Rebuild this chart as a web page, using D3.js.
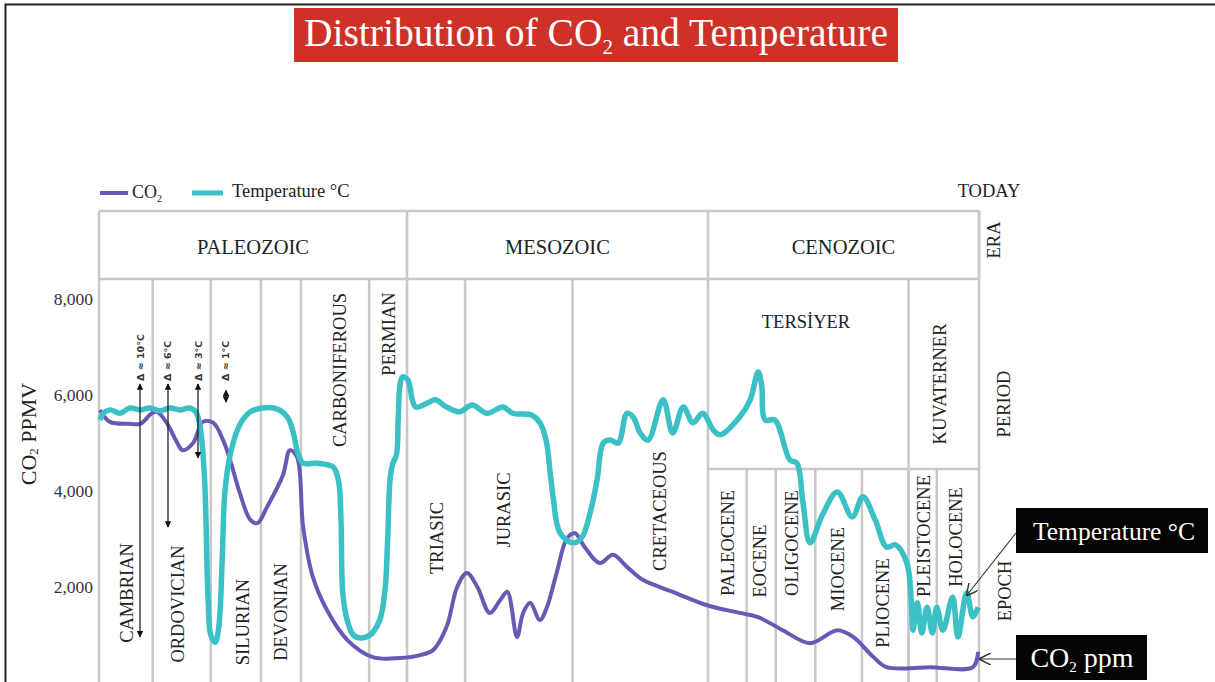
<!DOCTYPE html>
<html>
<head>
<meta charset="utf-8">
<script src="https://cdn.jsdelivr.net/npm/d3@7"></script>
<style>
  body { margin: 0; background: #fff; }
  svg { display: block; font-family: "Liberation Serif", "Times New Roman", serif; }
</style>
</head>
<body>
<div id="chart"></div>
<script>
const width = 1215;
const height = 682;

// timeline position 0..100 (not linear in time, as in the original figure)
const eraNames = ["PALEOZOIC", "MESOZOIC", "CENOZOIC"];
const eraBounds = [0, 35.0, 69.2, 100];

const periodNames = ["CAMBRIAN", "ORDOVICIAN", "SILURIAN", "DEVONIAN", "CARBONIFEROUS", "PERMIAN",
  "TRIASIC", "JURASIC", "CRETACEOUS", "TERSİYER", "KUVATERNER"];
const periodBounds = [0, 6.1, 12.7, 18.4, 22.95, 30.7, 35.0, 41.6, 53.8, 69.2, 92.0, 100];

const epochNames = ["PALEOCENE", "EOCENE", "OLIGOCENE", "MIOCENE", "PLIOCENE", "PLEISTOCENE", "HOLOCENE"];
const epochBounds = [69.2, 73.6, 76.9, 81.4, 86.7, 92.0, 95.2, 100];

const yTicks = [2000, 4000, 6000, 8000];

// CO2 ppmv
const co2Pos = [0.1, 1.25, 3.5, 4.7, 6.0, 6.6, 7.7, 8.9, 9.5, 10.7, 11.8, 13.0, 14.1, 14.9, 16.0, 17.2, 18.0,
  19.1, 20.9, 21.7, 22.5, 23.2, 24.3, 25.9, 28.2, 31.1, 34.2, 36.5, 38.0, 39.5, 40.7, 41.8, 43.0, 44.4,
  45.6, 46.4, 47.5, 48.2, 49.0, 50.1, 50.9, 52.0, 53.2, 54.1, 55.2, 56.9, 58.4, 60.0, 61.8, 65.2, 69.1,
  72.8, 74.8, 77.7, 80.8, 83.9, 85.7, 88.0, 89.5, 94.4, 99.3, 99.9];
const co2Values = [5690, 5440, 5400, 5400, 5620, 5650, 5420, 5000, 4850, 5000, 5440, 5420, 5060, 4650, 3960,
  3400, 3330, 3670, 4330, 4850, 4710, 3250, 2210, 1520, 900, 540, 520, 580, 690, 1170, 2000, 2290, 2000,
  1460, 1730, 1900, 960, 1460, 1670, 1310, 1580, 2290, 3020, 3120, 2830, 2500, 2670, 2420, 2150, 1900,
  1620, 1460, 1380, 1100, 830, 1100, 960, 540, 330, 330, 330, 650];

// temperature, drawn on the same vertical scale as in the source figure
const tempPos = [0.1, 0.5, 1.25, 2.4, 3.5, 4.7, 5.8, 6.9, 8.1, 9.2, 10.3, 11.0, 11.5, 12.0, 12.4, 12.7, 13.2,
  13.6, 14.0, 14.3, 14.9, 16.0, 17.2, 18.6, 20.2, 21.4, 22.0, 22.6, 23.2, 24.8, 26.6, 27.2, 27.5, 27.7,
  28.2, 28.9, 29.7, 30.8, 31.9, 32.5, 32.8, 33.1, 33.4, 33.8, 34.0, 34.2, 34.5, 35.1, 35.6, 36.0, 37.3,
  38.2, 39.5, 41.0, 42.4, 44.1, 45.9, 47.0, 49.2, 50.1, 50.8, 51.3, 51.6, 52.4, 53.9, 54.9, 55.8, 56.6,
  57.3, 58.1, 59.0, 60.0, 60.7, 61.5, 62.4, 64.1, 65.2, 66.4, 67.5, 68.6, 69.8, 70.6, 72.8, 74.0, 74.9,
  75.3, 75.7, 76.8, 78.5, 79.3, 80.0, 80.8, 82.2, 83.9, 85.6, 86.8, 88.2, 89.5, 90.5, 91.8, 92.3, 92.5,
  93.0, 93.5, 94.1, 94.7, 95.2, 95.9, 97.0, 97.6, 98.6, 99.3, 99.9];
const tempValues = [5480, 5620, 5690, 5620, 5730, 5690, 5730, 5670, 5730, 5690, 5730, 5650, 5330, 4230, 1730,
  1000, 850, 1150, 2560, 3960, 4750, 5380, 5650, 5730, 5710, 5540, 5270, 4790, 4580, 4580, 4500, 4230,
  3400, 1880, 1310, 1000, 940, 1000, 1310, 1940, 2980, 4290, 4580, 4750, 5480, 6210, 6380, 6310, 5900,
  5750, 5830, 5900, 5750, 5650, 5790, 5620, 5750, 5620, 5580, 5420, 5060, 4330, 3880, 3120, 2920, 3040,
  3540, 4230, 5000, 5060, 5000, 5620, 5540, 5210, 5060, 5900, 5210, 5750, 5420, 5620, 5270, 5170, 5540,
  5900, 6480, 6210, 5480, 5480, 4650, 4580, 3750, 2920, 3500, 3980, 3460, 3880, 3400, 2830, 2880, 2500,
  1730, 1100, 1670, 1040, 1580, 1040, 1580, 1100, 1790, 960, 1880, 1380, 1580];

// Δ temperature markers
const deltaLabels = ["Δ ≈ 10°C", "Δ ≈ 6°C", "Δ ≈ 3°C", "Δ ≈ 1°C"];
const deltaPos = [4.66, 7.84, 11.25, 14.43];
const deltaTop = [6230, 6230, 6230, 6100];
const deltaBottom = [960, 3250, 4690, 5850];

const co2Color = "#6a58b4";
const tempColor = "#3bc0c6";
const gridColor = "#c8c8c8";
const labelSize = "18.5px";

const x = d3.scaleLinear().domain([0, 100]).range([99, 979]);
const y = d3.scaleLinear().domain([0, 8000]).range([683, 299]);

const svg = d3.select("#chart").append("svg")
  .attr("width", width)
  .attr("height", height);

svg.append("rect").attr("width", width).attr("height", height).attr("fill", "#fff");

// frame (top and left only)
svg.append("path")
  .attr("d", `M5.5,${height} V4.5 H${width}`)
  .attr("fill", "none")
  .attr("stroke", "#222")
  .attr("stroke-width", 2);

// title
const title = svg.append("g");
title.append("rect")
  .attr("x", 294).attr("y", 8).attr("width", 604).attr("height", 54)
  .attr("fill", "#cf3127");
const titleText = title.append("text")
  .attr("x", 596).attr("y", 46)
  .attr("text-anchor", "middle")
  .attr("fill", "#fff")
  .style("font-size", "39.5px");
titleText.append("tspan").text("Distribution of CO");
titleText.append("tspan").attr("dy", 8).style("font-size", "21px").text("2");
titleText.append("tspan").attr("dy", -8).text(" and Temperature");

// legend
const legend = svg.append("g");
legend.append("line").attr("x1", 100).attr("x2", 128).attr("y1", 193).attr("y2", 193)
  .attr("stroke", co2Color).attr("stroke-width", 4);
const lt = legend.append("text").attr("x", 132).attr("y", 198).style("font-size", "18px").attr("fill", "#222");
lt.append("tspan").text("CO");
lt.append("tspan").attr("dy", 4).style("font-size", "10px").text("2");
legend.append("line").attr("x1", 192).attr("x2", 223).attr("y1", 193).attr("y2", 193)
  .attr("stroke", tempColor).attr("stroke-width", 5);
legend.append("text").attr("x", 232).attr("y", 197).style("font-size", "18.5px").attr("fill", "#222")
  .text("Temperature °C");

svg.append("text").attr("x", 989).attr("y", 197).attr("text-anchor", "middle")
  .style("font-size", labelSize).attr("fill", "#222").text("TODAY");

// timeline grid
const eraTop = 211, periodTop = 279, epochTop = 469, bottom = height;
const grid = svg.append("g").attr("stroke", gridColor).attr("stroke-width", 2.5).attr("fill", "none");

grid.append("line").attr("x1", x(0)).attr("x2", x(100) + 1).attr("y1", eraTop).attr("y2", eraTop);
grid.append("line").attr("x1", x(0)).attr("x2", x(100) + 1).attr("y1", periodTop).attr("y2", periodTop);
grid.append("line").attr("x1", x(epochBounds[0])).attr("x2", x(100) + 1).attr("y1", epochTop).attr("y2", epochTop);

grid.selectAll(".era-line").data(eraBounds).join("line")
  .attr("x1", d => x(d)).attr("x2", d => x(d))
  .attr("y1", eraTop).attr("y2", periodTop);
grid.selectAll(".period-line").data(periodBounds.slice(0, -1)).join("line")
  .attr("x1", d => x(d)).attr("x2", d => x(d))
  .attr("y1", periodTop).attr("y2", bottom);
grid.append("line").attr("x1", x(100)).attr("x2", x(100)).attr("y1", eraTop).attr("y2", bottom);
grid.selectAll(".epoch-line").data(epochBounds.slice(1, -1)).join("line")
  .attr("x1", d => x(d)).attr("x2", d => x(d))
  .attr("y1", epochTop).attr("y2", bottom);

// era labels
svg.append("g").selectAll("text").data(eraNames).join("text")
  .attr("x", (d, i) => (x(eraBounds[i]) + x(eraBounds[i + 1])) / 2)
  .attr("y", 254)
  .attr("text-anchor", "middle")
  .style("font-size", "20.5px")
  .attr("fill", "#222")
  .text(d => d);

// label centres in px (layout only)
const periodLabelXY = [[127, 593], [178, 604], [243, 622], [281, 612], [340, 370], [389, 334],
  [437, 538], [504, 510], [660, 511], [806, 322], [940, 384]];
const epochLabelXY = [[728, 543], [760, 561], [792, 543], [838, 569], [883, 603], [924, 536], [956, 537]];

const rotLabel = (sel, xy) => sel
  .attr("transform", (d, i) => d === "TERSİYER" ? `translate(${xy[i][0]},${xy[i][1]})` : `translate(${xy[i][0]},${xy[i][1]}) rotate(-90)`)
  .attr("text-anchor", "middle")
  .attr("dominant-baseline", "central")
  .style("font-size", labelSize)
  .attr("fill", "#222")
  .text(d => d);

svg.append("g").selectAll("text").data(periodNames).join("text").call(rotLabel, periodLabelXY);
svg.append("g").selectAll("text").data(epochNames).join("text").call(rotLabel, epochLabelXY);

// row names on the right
const rowNames = [["ERA", 994, 240], ["PERIOD", 1004, 404], ["EPOCH", 1005, 591]];
svg.append("g").selectAll("text").data(rowNames).join("text")
  .attr("transform", d => `translate(${d[1]},${d[2]}) rotate(-90)`)
  .attr("text-anchor", "middle")
  .attr("dominant-baseline", "central")
  .style("font-size", labelSize)
  .attr("fill", "#222")
  .text(d => d[0]);

// y axis
const yAxis = svg.append("g")
  .attr("transform", "translate(93,0)")
  .call(d3.axisLeft(y).tickValues(yTicks).tickSize(0).tickPadding(0).tickFormat(d3.format(",")));
yAxis.select(".domain").remove();
yAxis.selectAll("text")
  .style("font-family", "Liberation Serif, serif")
  .style("font-size", "17.5px")
  .attr("fill", "#333");

const yTitle = svg.append("text")
  .attr("transform", "translate(28,434) rotate(-90)")
  .attr("text-anchor", "middle")
  .attr("dominant-baseline", "central")
  .style("font-size", "22px")
  .attr("fill", "#222");
yTitle.append("tspan").text("CO");
yTitle.append("tspan").attr("dy", 5).style("font-size", "13px").text("2");
yTitle.append("tspan").attr("dy", -5).text(" PPMV");

// curves
const line = d3.line()
  .x(d => x(d[0]))
  .y(d => y(d[1]))
  .curve(d3.curveCatmullRom.alpha(0.5));

svg.append("path")
  .datum(co2Pos.map((p, i) => [p, co2Values[i]]))
  .attr("d", line)
  .attr("fill", "none")
  .attr("stroke", co2Color)
  .attr("stroke-width", 4)
  .attr("stroke-linejoin", "round");

svg.append("path")
  .datum(tempPos.map((p, i) => [p, tempValues[i]]))
  .attr("d", line)
  .attr("fill", "none")
  .attr("stroke", tempColor)
  .attr("stroke-width", 5.5)
  .attr("stroke-linejoin", "round");

// arrow markers
const defs = svg.append("defs");
defs.append("marker")
  .attr("id", "tri").attr("viewBox", "0 0 10 10")
  .attr("refX", 9).attr("refY", 5)
  .attr("markerWidth", 5).attr("markerHeight", 5)
  .attr("orient", "auto-start-reverse")
  .append("path").attr("d", "M0,0 L10,5 L0,10 Z").attr("fill", "#111");
defs.append("marker")
  .attr("id", "open").attr("viewBox", "0 0 10 10")
  .attr("refX", 9).attr("refY", 5)
  .attr("markerWidth", 12).attr("markerHeight", 12)
  .attr("markerUnits", "userSpaceOnUse")
  .attr("orient", "auto")
  .append("path").attr("d", "M0,0 L10,5 L0,10").attr("fill", "none").attr("stroke", "#333").attr("stroke-width", 1.2);

// Δ markers
const delta = svg.append("g");
delta.selectAll("line").data(deltaPos).join("line")
  .attr("x1", d => x(d)).attr("x2", d => x(d))
  .attr("y1", (d, i) => y(deltaTop[i])).attr("y2", (d, i) => y(deltaBottom[i]))
  .attr("stroke", "#222").attr("stroke-width", 1.3)
  .attr("marker-start", "url(#tri)").attr("marker-end", "url(#tri)");
delta.selectAll("text").data(deltaLabels).join("text")
  .attr("transform", (d, i) => `translate(${x(deltaPos[i])},381) rotate(-90)`)
  .attr("dominant-baseline", "central")
  .style("font-family", "DejaVu Sans, sans-serif")
  .style("font-size", "9.5px")
  .style("font-weight", "bold")
  .attr("fill", "#333")
  .text(d => d);

// callouts
const callouts = svg.append("g");
callouts.append("rect").attr("x", 1016).attr("y", 508).attr("width", 192).attr("height", 45).attr("fill", "#050505");
callouts.append("text").attr("x", 1114).attr("y", 540).attr("text-anchor", "middle")
  .attr("fill", "#fff").style("font-size", "25.5px").text("Temperature °C");
callouts.append("line").attr("x1", 1016).attr("y1", 533).attr("x2", 967).attr("y2", 595)
  .attr("stroke", "#333").attr("stroke-width", 1.2).attr("marker-end", "url(#open)");

callouts.append("rect").attr("x", 1016).attr("y", 635).attr("width", 131).attr("height", 45).attr("fill", "#050505");
const co2Label = callouts.append("text").attr("x", 1082).attr("y", 667).attr("text-anchor", "middle")
  .attr("fill", "#fff").style("font-size", "28px");
co2Label.append("tspan").text("CO");
co2Label.append("tspan").attr("dy", 5).style("font-size", "15px").text("2");
co2Label.append("tspan").attr("dy", -5).text(" ppm");
callouts.append("line").attr("x1", 1016).attr("y1", 659).attr("x2", 980).attr("y2", 659)
  .attr("stroke", "#333").attr("stroke-width", 1.2).attr("marker-end", "url(#open)");
</script>
</body>
</html>
